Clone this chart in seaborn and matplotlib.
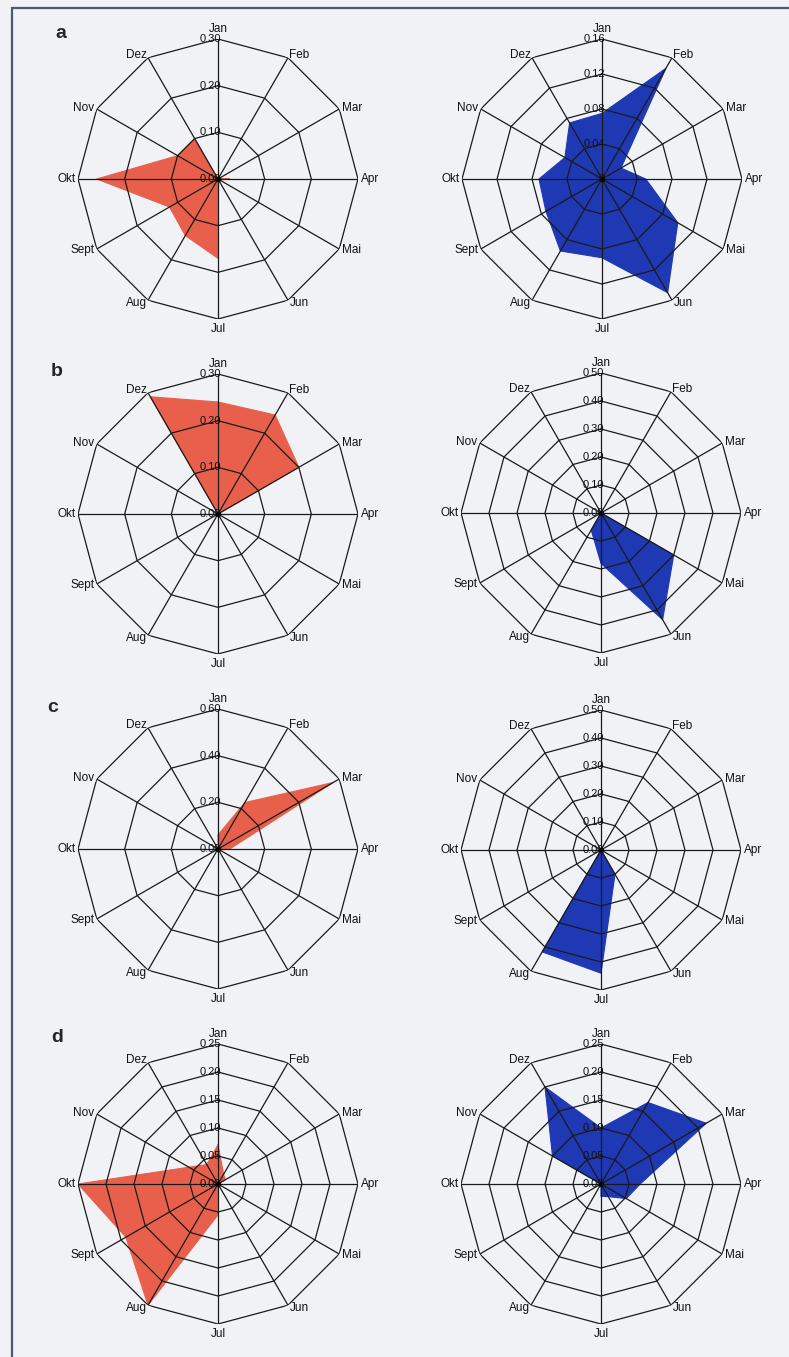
import numpy as np
import seaborn as sns
import matplotlib.pyplot as plt
from matplotlib.patches import Rectangle

months = ["Jan", "Feb", "Mar", "Apr", "Mai", "Jun", "Jul", "Aug", "Sept", "Okt", "Nov", "Dez"]

# values (share per month)
a_left = [0.0, 0.0, 0.0, 0.025, 0.0, 0.0, 0.17, 0.14, 0.12, 0.26, 0.10, 0.10]
a_right = [0.075, 0.146, 0.025, 0.05, 0.10, 0.15, 0.09, 0.095, 0.074, 0.072, 0.049, 0.074]
b_left = [0.24, 0.245, 0.20, 0.0, 0.0, 0.0, 0.0, 0.0, 0.0, 0.0, 0.0, 0.29]
b_right = [0.0, 0.0, 0.0, 0.0, 0.30, 0.44, 0.18, 0.07, 0.0, 0.0, 0.0, 0.0]
c_left = [0.06, 0.23, 0.57, 0.05, 0.0, 0.0, 0.0, 0.0, 0.0, 0.0, 0.0, 0.0]
c_right = [0.0, 0.0, 0.0, 0.0, 0.0, 0.10, 0.44, 0.42, 0.0, 0.0, 0.0, 0.0]
d_left = [0.07, 0.02, 0.015, 0.0, 0.0, 0.0, 0.055, 0.25, 0.19, 0.25, 0.06, 0.04]
d_right = [0.10, 0.168, 0.217, 0.07, 0.052, 0.026, 0.022, 0.0, 0.0, 0.0, 0.10, 0.20]

ticks_30 = [0.0, 0.10, 0.20, 0.30]
ticks_16 = [0.0, 0.04, 0.08, 0.12, 0.16]
ticks_50 = [0.0, 0.10, 0.20, 0.30, 0.40, 0.50]
ticks_60 = [0.0, 0.20, 0.40, 0.60]
ticks_25 = [0.0, 0.05, 0.10, 0.15, 0.20, 0.25]

labels_30 = ["0.00", "0.10", "0.20", "0.30"]
labels_16 = ["0", "0.04", "0.08", "0.12", "0.16"]
labels_50 = ["0.00", "0.10", "0.20", "0.30", "0.40", "0.50"]
labels_60 = ["0.00", "0.20", "0.40", "0.60"]
labels_25 = ["0.00", "0.05", "0.10", "0.15", "0.20", "0.25"]

red = "#e8604c"
blue = "#1f38b4"

sns.set_style("white")
plt.rcParams['font.family'] = ['Liberation Sans', 'DejaVu Sans']

W, H = 789, 1357
fig = plt.figure(figsize=(W / 100, H / 100), dpi=100)
fig.patch.set_facecolor("#f0f2f5")
fig.patches.append(Rectangle((12 / W, -0.01), 1.0, 1 - 8 / H + 0.01, transform=fig.transFigure,
                             fill=False, edgecolor="#4b5a78", linewidth=1.6))

theta = np.linspace(0, 2 * np.pi, 12, endpoint=False)
R = 140  # pixel radius of outer ring


def radar(cx, cy, vals, ticks, tlabels, color):
    ax = fig.add_axes([(cx - R) / W, 1 - (cy + R) / H, 2 * R / W, 2 * R / H], projection='polar')
    ax.set_theta_offset(np.pi / 2)
    ax.set_theta_direction(-1)
    rmax = ticks[-1]
    ax.set_ylim(0, rmax)
    ax.grid(False)
    ax.set_xticks([])
    ax.set_yticks([])
    ax.spines['polar'].set_visible(False)
    ax.patch.set_alpha(0)

    th = np.append(theta, theta[0])
    v = np.append(vals, vals[0])
    ax.fill(th, v, color=color, zorder=2, linewidth=0)
    sns.lineplot(x=th, y=v, sort=False, estimator=None, ax=ax, color=color, linewidth=0.8, zorder=2)

    # dodecagon rings and spokes
    for t in ticks[1:]:
        ax.plot(th, [t] * 13, color="#1a1a1a", linewidth=0.9, zorder=3)
    for a in theta:
        ax.plot([a, a], [0, rmax], color="#1a1a1a", linewidth=0.9, zorder=3)
    ax.plot([0], [0], marker='o', color='black', markersize=3, zorder=4)

    for t, lab in zip(ticks, tlabels):
        ax.annotate(lab, xy=(0, t), xytext=(2, 0), textcoords='offset points',
                    ha='right', va='center', fontsize=8, color="#111111", zorder=5)

    for a, m in zip(theta, months):
        deg = np.degrees(a)
        if np.isclose(deg, 0):
            ha, va, r = 'center', 'bottom', 1.03
        elif np.isclose(deg, 180):
            ha, va, r = 'center', 'top', 1.03
        elif deg < 180:
            ha, va, r = 'left', 'center', 1.02
        else:
            ha, va, r = 'right', 'center', 1.02
        ax.text(a, rmax * r, m, ha=ha, va=va, fontsize=8.5, color="#111111")
    return ax


radar(218, 179, a_left, ticks_30, labels_30, red)
radar(602, 179, a_right, ticks_16, labels_16, blue)
radar(218, 514, b_left, ticks_30, labels_30, red)
radar(601, 513, b_right, ticks_50, labels_50, blue)
radar(218, 849, c_left, ticks_60, labels_60, red)
radar(601, 850, c_right, ticks_50, labels_50, blue)
radar(218, 1184, d_left, ticks_25, labels_25, red)
radar(601, 1184, d_right, ticks_25, labels_25, blue)

for letter, x, y in [("a", 55, 33), ("b", 51, 372), ("c", 47, 708), ("d", 51, 1038)]:
    fig.text(x / W, 1 - y / H, letter, fontsize=14, fontweight='bold', ha='left', va='center')

plt.savefig("out.png", dpi=100, facecolor=fig.get_facecolor())
